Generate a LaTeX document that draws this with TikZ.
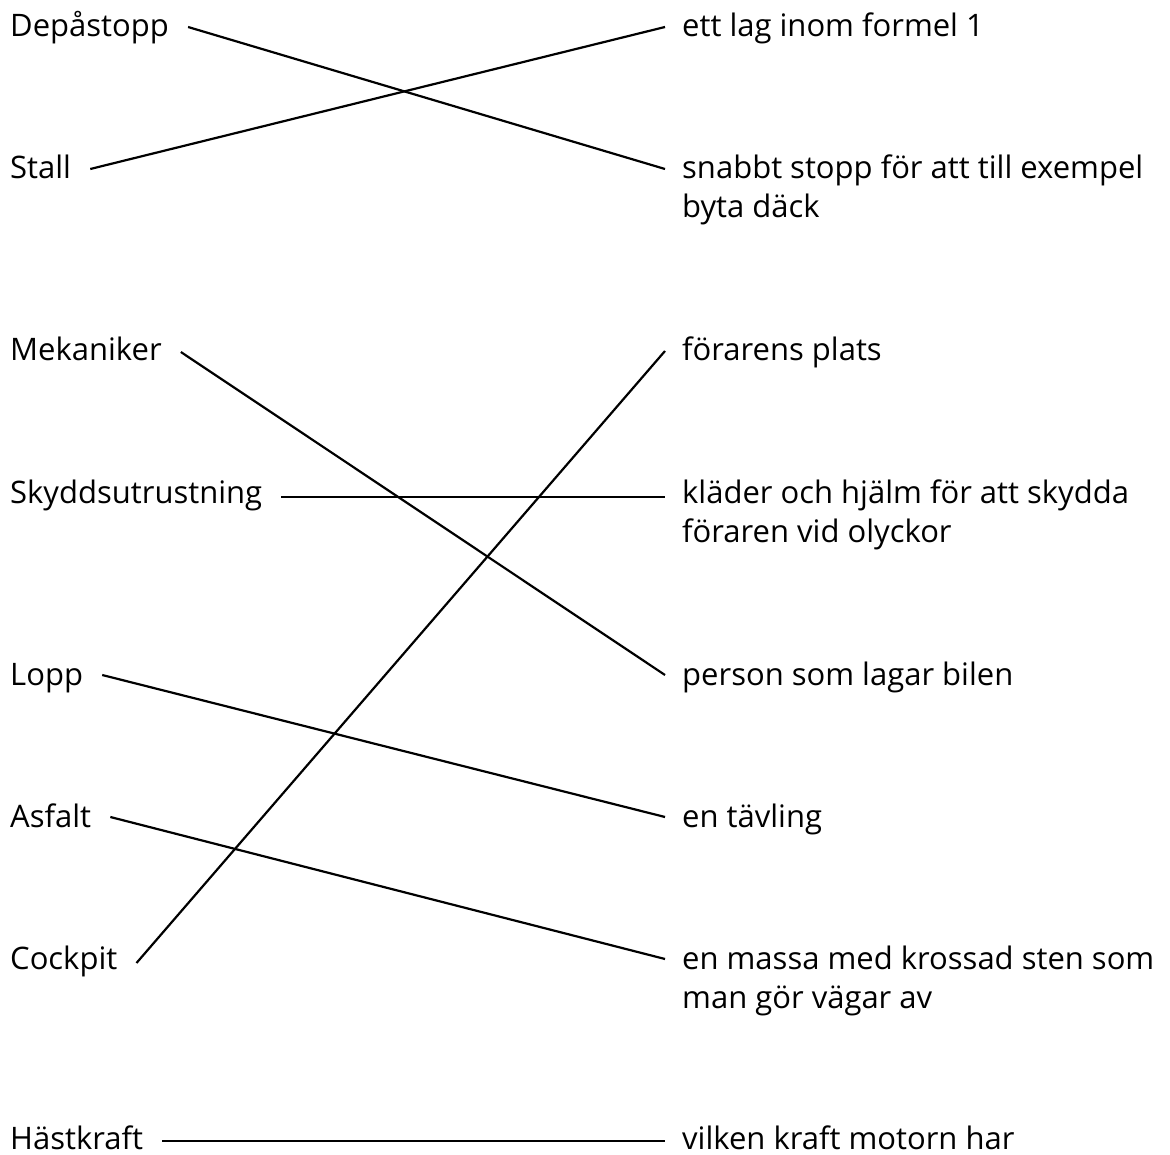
\documentclass[tikz,border=0pt]{standalone}
\usepackage{fontspec}
\setmainfont{Open Sans}
\usepackage{tikz}

\begin{document}
\begin{tikzpicture}
[x=1pt,y=-1pt,
 word/.style={anchor=base west,inner xsep=19pt,inner ysep=0pt,font=\fontsize{31}{39}\selectfont},
 def/.style={anchor=base west,inner xsep=17pt,inner ysep=0pt,font=\fontsize{31}{39}\selectfont},
 link/.style={line width=2.2pt}]
					\useasboundingbox (0,0) rectangle (1170,1155);
					% left column
					\node[word] (dep) at (-9,37) {Depåstopp};
					\node[word] (stall) at (-9,179) {Stall};
					\node[word] (mek) at (-9,361) {Mekaniker};
					\node[word] (skydd) at (-9,503) {Skyddsutrustning};
					\node[word] (lopp) at (-9,685) {Lopp};
					\node[word] (asf) at (-9,827) {Asfalt};
					\node[word] (cock) at (-9,969) {Cockpit};
					\node[word] (hk) at (-9,1149) {Hästkraft};
					% right column
					\node[def] (lag) at (665,37) {ett lag inom formel 1};
					\node[def] (stopp) at (665,179) {\begin{tabular}[t]{@{}l@{}}snabbt stopp för att till exempel\\byta däck\end{tabular}};
					\node[def] (plats) at (665,361) {förarens plats};
					\node[def] (klad) at (665,503) {\begin{tabular}[t]{@{}l@{}}kläder och hjälm för att skydda\\föraren vid olyckor\end{tabular}};
					\node[def] (person) at (665,685) {person som lagar bilen};
					\node[def] (tavl) at (665,827) {en tävling};
					\node[def] (massa) at (665,969) {\begin{tabular}[t]{@{}l@{}}en massa med krossad sten som\\man gör vägar av\end{tabular}};
					\node[def] (kraft) at (665,1149) {vilken kraft motorn har};
					% pairs
					\path ([yshift=10pt]dep.base east) edge[link] ([yshift=10pt]stopp.base west);
					\path ([yshift=10pt]stall.base east) edge[link] ([yshift=10pt]lag.base west);
					\path ([yshift=9pt]mek.base east) edge[link] ([yshift=10pt]person.base west);
					\path ([yshift=6pt]skydd.base east) edge[link] ([yshift=6pt]klad.base west);
					\path ([yshift=10pt]lopp.base east) edge[link] ([yshift=10pt]tavl.base west);
					\path ([yshift=10pt]asf.base east) edge[link] ([yshift=10pt]massa.base west);
					\path ([yshift=6pt]cock.base east) edge[link] ([yshift=10pt]plats.base west);
					\path ([yshift=8pt]hk.base east) edge[link] ([yshift=8pt]kraft.base west);
				\end{tikzpicture}
\end{document}
